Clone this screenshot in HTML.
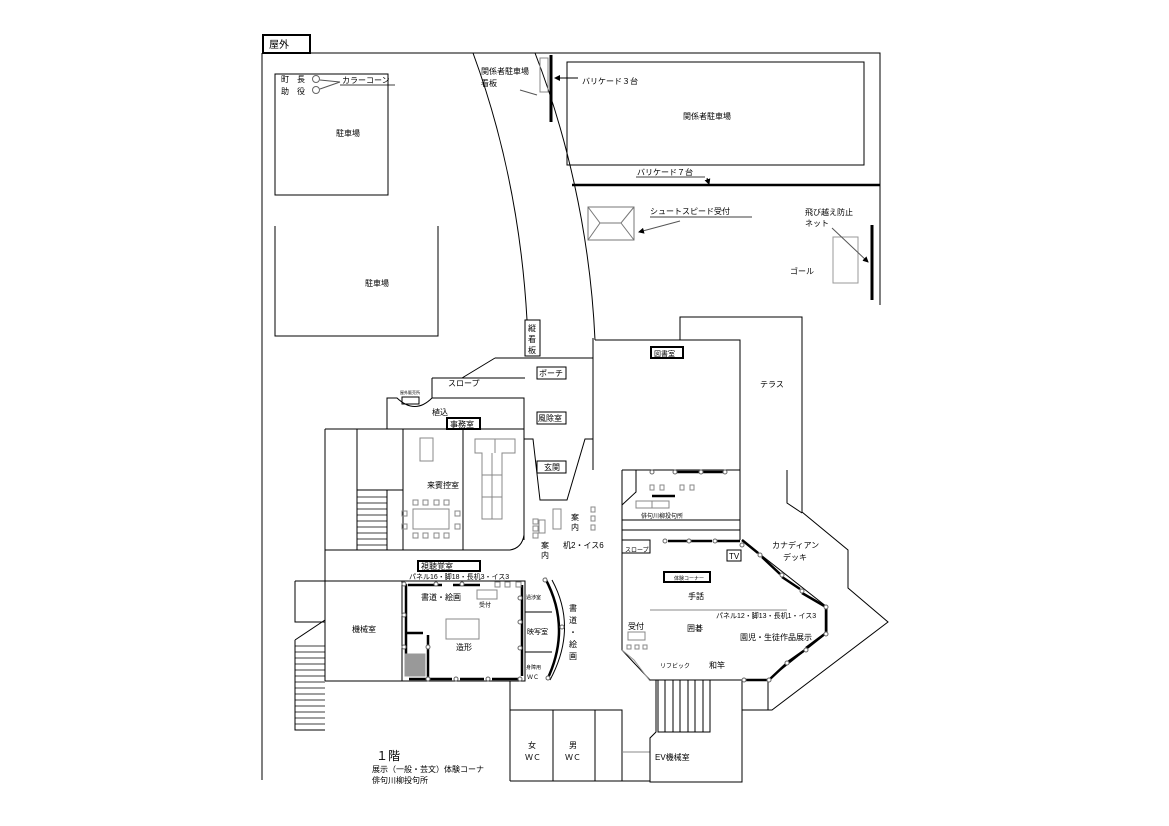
<!DOCTYPE html>
<html><head><meta charset="utf-8"><style>
html,body{margin:0;padding:0;background:#fff;}
svg{display:block;}
text{font-family:"Liberation Sans","Noto Sans CJK JP",sans-serif;fill:#000;}
</style></head><body>
<svg width="1169" height="826" viewBox="0 0 1169 826" xmlns="http://www.w3.org/2000/svg" font-size="9">
<defs><marker id="ar" markerWidth="6" markerHeight="6" refX="5" refY="3" orient="auto"><path d="M0,0 L6,3 L0,6z" fill="#000"/></marker></defs>
<g fill="none" stroke="#000" stroke-width="1">
<rect x="263" y="35" width="47" height="18" stroke-width="2"/>
<path d="M262,53 H880 V305"/>
<path d="M262,53 V780"/>
<rect x="275" y="74" width="113" height="121"/>
<path d="M275,226 V336 H438 V226"/>
<path d="M473,53 C505,140 522,230 527,320"/>
<path d="M535,53 C565,130 590,230 595,340"/>
<rect x="540" y="58" width="8" height="34" stroke="#888"/>
<path d="M551,55 V122" stroke-width="3"/>
<rect x="567" y="62" width="297" height="103"/>
<path d="M572,185 H880" stroke-width="2.5"/>
<path d="M578,78 H555" marker-end="url(#ar)"/>
<path d="M707,178 L709,184" marker-end="url(#ar)"/>
<path d="M520,90 L537,95" stroke="#555"/>
<rect x="588" y="207" width="46" height="33" stroke="#777"/>
<path d="M588,207 L600,223 H621 L634,207 M588,240 L600,223 M621,223 L634,240" stroke="#777"/>
<path d="M680,221 L639,232" stroke="#555" marker-end="url(#ar)"/>
<path d="M872,225 V300" stroke-width="3"/>
<rect x="833" y="237" width="25" height="46" stroke="#999"/>
<path d="M832,228 L868,262" stroke="#555" marker-end="url(#ar)"/>
<circle cx="316" cy="79" r="3.5" stroke="#666"/><circle cx="316" cy="90" r="3.5" stroke="#666"/>
<path d="M340,82 L320,80 M340,82 L320,89" stroke="#555"/>
<rect x="525" y="320" width="15" height="36"/>
<path d="M495,358 H593 M462,378 L495,358"/>
<path d="M432,378 V398 M432,378 H525"/>
<path d="M387,429 V398 L397,398 Q415,415 432,398 H524 V540"/>
<rect x="402" y="397" width="17" height="7"/>
<path d="M593,338 V470"/>
<path d="M524,439 H533 L540,500 H567 L585,439 H593"/>
<path d="M325,429 H524 M325,429 V681 M357,429 V550 M403,429 V550 M463,429 V550 M357,490 H403 M387,490 V550"/>
<path d="M325,550 H510 Q522,548 524,535"/>
<g stroke-width="0.7"><path d="M357,497H387M357,503H387M357,509H387M357,515H387M357,521H387M357,527H387M357,533H387M357,539H387M357,545H387"/></g>
<rect x="420" y="438" width="13" height="23" stroke="#888"/>
<rect x="413" y="509" width="36" height="20" stroke="#888"/>
<g stroke="#888"><rect x="413" y="500" width="5" height="5"/><rect x="423" y="500" width="5" height="5"/><rect x="434" y="500" width="5" height="5"/><rect x="444" y="500" width="5" height="5"/><rect x="413" y="533" width="5" height="5"/><rect x="423" y="533" width="5" height="5"/><rect x="434" y="533" width="5" height="5"/><rect x="444" y="533" width="5" height="5"/><rect x="402" y="511" width="5" height="5"/><rect x="402" y="524" width="5" height="5"/><rect x="455" y="511" width="5" height="5"/><rect x="455" y="524" width="5" height="5"/>
<path d="M475,439 H515 V453 H502 V519 H482 V453 H475Z M495,439V453 M482,475H502 M482,497H502 M492,453V519"/>
<rect x="539" y="520" width="6" height="13"/><rect x="553" y="509" width="8" height="20"/>
<rect x="533" y="519" width="5" height="5"/><rect x="533" y="526" width="5" height="5"/><rect x="533" y="533" width="5" height="5"/>
<rect x="591" y="507" width="4" height="5"/><rect x="591" y="516" width="4" height="5"/><rect x="591" y="525" width="4" height="5"/></g>
<path d="M325,581 H510"/>
<rect x="402" y="581" width="123" height="100"/>
<path d="M325,681 H525 M525,581 V681 M525,612 H552 M525,652 H552"/>
<path d="M545,578 Q572,628 547,680" stroke-width="2.5"/>
<path d="M552,580 Q578,628 550,680" stroke-width="1"/>
<path d="M295,581 H325 M295,581 V622 H325 M295,640 V730 H325 M295,640 L325,620"/>
<g stroke-width="0.7"><path d="M295,646H325M295,652H325M295,658H325M295,664H325M295,670H325M295,676H325M295,682H325M295,688H325M295,694H325M295,700H325M295,706H325M295,712H325M295,718H325M295,724H325"/></g>
<path d="M406,584 V675 M408,585 H442 M453,585 H480 M522,585 V676 M409,679 H452 M460,679 H484 M492,679 H521 M406,633 H423 M428,635 V677" stroke-width="2.5"/>
<rect x="405" y="654" width="20" height="22" fill="#999" stroke="#999"/>
<g stroke="#666" fill="#fff"><circle cx="404" cy="584" r="2"/><circle cx="436" cy="584" r="2"/><circle cx="462" cy="584" r="2"/><circle cx="404" cy="615" r="2"/><circle cx="404" cy="647" r="2"/><circle cx="428" cy="647" r="2"/><circle cx="428" cy="679" r="2"/><circle cx="456" cy="679" r="2"/><circle cx="488" cy="679" r="2"/><circle cx="520" cy="679" r="2"/><circle cx="520" cy="598" r="2"/><circle cx="520" cy="622" r="2"/><circle cx="520" cy="648" r="2"/><circle cx="545" cy="580" r="2"/><circle cx="562" cy="627" r="2"/><circle cx="548" cy="678" r="2"/></g>
<g stroke="#888"><rect x="495" y="582" width="5" height="5"/><rect x="505" y="582" width="5" height="5"/><rect x="516" y="582" width="5" height="5"/><rect x="477" y="590" width="20" height="9"/><rect x="446" y="619" width="33" height="20"/></g>
<path d="M510,681 V781 M510,710 H622 V781 M510,781 H650 M553,710 V781 M595,710 V781"/>
<path d="M622,752 H650" stroke="#888"/>
<path d="M595,340 H740 V540 M680,340 V317 H802 V512 L848,550 V588 L888,622 L772,710 H742"/>
<path d="M787,470 V503 L802,513"/>
<path d="M622,470 H740 M622,470 V650 L650,680 H742 M622,530 H740 M622,520 H740 M622,505 L636,492 V470"/>
<rect x="636" y="501" width="16" height="7" stroke="#888"/><rect x="652" y="501" width="17" height="7" stroke="#888"/>
<g stroke="#888"><rect x="650" y="485" width="4" height="5"/><rect x="660" y="485" width="4" height="5"/><rect x="680" y="485" width="4" height="5"/><rect x="690" y="485" width="4" height="5"/></g>
<path d="M742,540 L827,607 V633 L768,680 V710 M742,680 V782 H650 V738 L656,732 V680"/>
<path d="M658,680 V732 H710 V680 M665,680V732 M673,680V732 M680,680V732 M688,680V732 M695,680V732 M703,680V732"/>
<path d="M622,540 H650 V553 H622"/>
<path d="M650,610 H787" stroke="#888"/>
<path d="M650,681 L634,660 L622,650" stroke="#999"/>
<path d="M652,496 H675 M676,472 H700 M701,472 H725 M668,541 H688 M690,541 H712 M715,541 H740 M742,540 L758,553 M762,557 L780,574 M782,577 L800,589 M802,593 L826,607 M826,607 V633 M826,633 L806,648 M805,650 L788,662 M786,664 L770,679 M768,680 L745,680" stroke-width="2.5"/>
<g stroke="#666" fill="#fff"><circle cx="652" cy="472" r="2"/><circle cx="675" cy="472" r="2"/><circle cx="701" cy="472" r="2"/><circle cx="725" cy="472" r="2"/><circle cx="665" cy="541" r="2"/><circle cx="689" cy="541" r="2"/><circle cx="715" cy="541" r="2"/><circle cx="742" cy="545" r="2"/><circle cx="760" cy="555" r="2"/><circle cx="782" cy="575" r="2"/><circle cx="802" cy="591" r="2"/><circle cx="826" cy="607" r="2"/><circle cx="826" cy="634" r="2"/><circle cx="806" cy="650" r="2"/><circle cx="787" cy="663" r="2"/><circle cx="769" cy="680" r="2"/><circle cx="744" cy="680" r="2"/></g>
<rect x="727" y="550" width="14" height="11"/>
<rect x="628" y="632" width="17" height="8" stroke="#888"/>
<g stroke="#888"><rect x="627" y="645" width="4" height="4"/><rect x="635" y="645" width="4" height="4"/><rect x="643" y="645" width="4" height="4"/></g>
<rect x="537" y="367" width="29" height="12"/><rect x="537" y="412" width="29" height="12"/><rect x="537" y="461" width="29" height="12"/>
<rect x="447" y="418" width="33" height="11" stroke-width="2"/>
<rect x="418" y="561" width="62" height="10" stroke-width="2"/>
<rect x="651" y="347" width="32" height="11" stroke-width="2"/>
<rect x="664" y="572" width="46" height="10" stroke-width="2"/>
</g>
<g stroke="#000" stroke-width="0.8"><path d="M340,85 H395 M636,177 H705 M650,217 H752"/></g>
<text x="269" y="48" font-size="10">屋外</text>
<text x="281" y="82" font-size="8">町　長</text><text x="281" y="94" font-size="8">助　役</text>
<text x="342" y="83" font-size="8">カラーコーン</text>
<text x="336" y="136" font-size="8">駐車場</text><text x="365" y="286" font-size="8">駐車場</text>
<text x="481" y="74" font-size="8">関係者駐車場</text><text x="481" y="86" font-size="8">看板</text>
<text x="582" y="84" font-size="8">バリケード３台</text>
<text x="683" y="119" font-size="8">関係者駐車場</text>
<text x="637" y="175" font-size="8">バリケード７台</text>
<text x="650" y="214" font-size="8">シュートスピード受付</text>
<text x="805" y="215" font-size="8">飛び越え防止</text><text x="805" y="226" font-size="8">ネット</text>
<text x="790" y="274" font-size="8">ゴール</text>
<text x="528" y="331" font-size="8">縦</text><text x="528" y="342" font-size="8">看</text><text x="528" y="353" font-size="8">板</text>
<text x="539" y="376" font-size="8">ポーチ</text><text x="538" y="421" font-size="8">風除室</text><text x="544" y="470" font-size="8">玄関</text>
<text x="448" y="386" font-size="8">スロープ</text>
<text x="400" y="394" font-size="4">屋外販売所</text>
<text x="432" y="415" font-size="8">植込</text><text x="450" y="427" font-size="8">事務室</text>
<text x="427" y="488" font-size="8">来賓控室</text>
<text x="571" y="520" font-size="8">案</text><text x="571" y="530" font-size="8">内</text>
<text x="541" y="548" font-size="8">案</text><text x="541" y="558" font-size="8">内</text>
<text x="563" y="548" font-size="8">机2・イス6</text>
<text x="421" y="569" font-size="8">視聴覚室</text>
<text x="409" y="579" font-size="7">パネル16・脚18・長机3・イス3</text>
<text x="421" y="600" font-size="8">書道・絵画</text><text x="479" y="607" font-size="6">受付</text>
<text x="352" y="632" font-size="8">機械室</text>
<text x="456" y="650" font-size="8">造形</text>
<text x="526" y="599" font-size="5">過渉室</text><text x="527" y="634" font-size="7">映写室</text>
<text x="526" y="669" font-size="5">身障用</text><text x="527" y="679" font-size="6">ＷＣ</text>
<text x="569" y="611" font-size="8">書</text><text x="569" y="623" font-size="8">道</text><text x="569" y="635" font-size="8">・</text><text x="569" y="647" font-size="8">絵</text><text x="569" y="659" font-size="8">画</text>
<text x="528" y="748" font-size="8">女</text><text x="525" y="760" font-size="8">ＷＣ</text>
<text x="569" y="748" font-size="8">男</text><text x="565" y="760" font-size="8">ＷＣ</text>
<text x="376" y="760" font-size="12">１階</text>
<text x="372" y="772" font-size="8">展示（一般・芸文）体験コーナ</text>
<text x="372" y="783" font-size="8">俳句川柳投句所</text>
<text x="654" y="356" font-size="7">図書室</text>
<text x="760" y="387" font-size="8">テラス</text>
<text x="641" y="518" font-size="6">俳句川柳投句所</text>
<text x="625" y="552" font-size="6">スロープ</text>
<text x="729" y="559" font-size="8">TV</text>
<text x="772" y="548" font-size="8">カナディアン</text><text x="783" y="560" font-size="8">デッキ</text>
<text x="674" y="580" font-size="5">体験コーナー</text>
<text x="688" y="599" font-size="8">手話</text>
<text x="716" y="618" font-size="7">パネル12・脚13・長机1・イス3</text>
<text x="687" y="631" font-size="8">囲碁</text>
<text x="628" y="629" font-size="8">受付</text>
<text x="740" y="640" font-size="8">園児・生徒作品展示</text>
<text x="660" y="668" font-size="6">リフビック</text>
<text x="709" y="668" font-size="8">和竿</text>
<text x="655" y="760" font-size="8">EV機械室</text>
</svg>
</body></html>
